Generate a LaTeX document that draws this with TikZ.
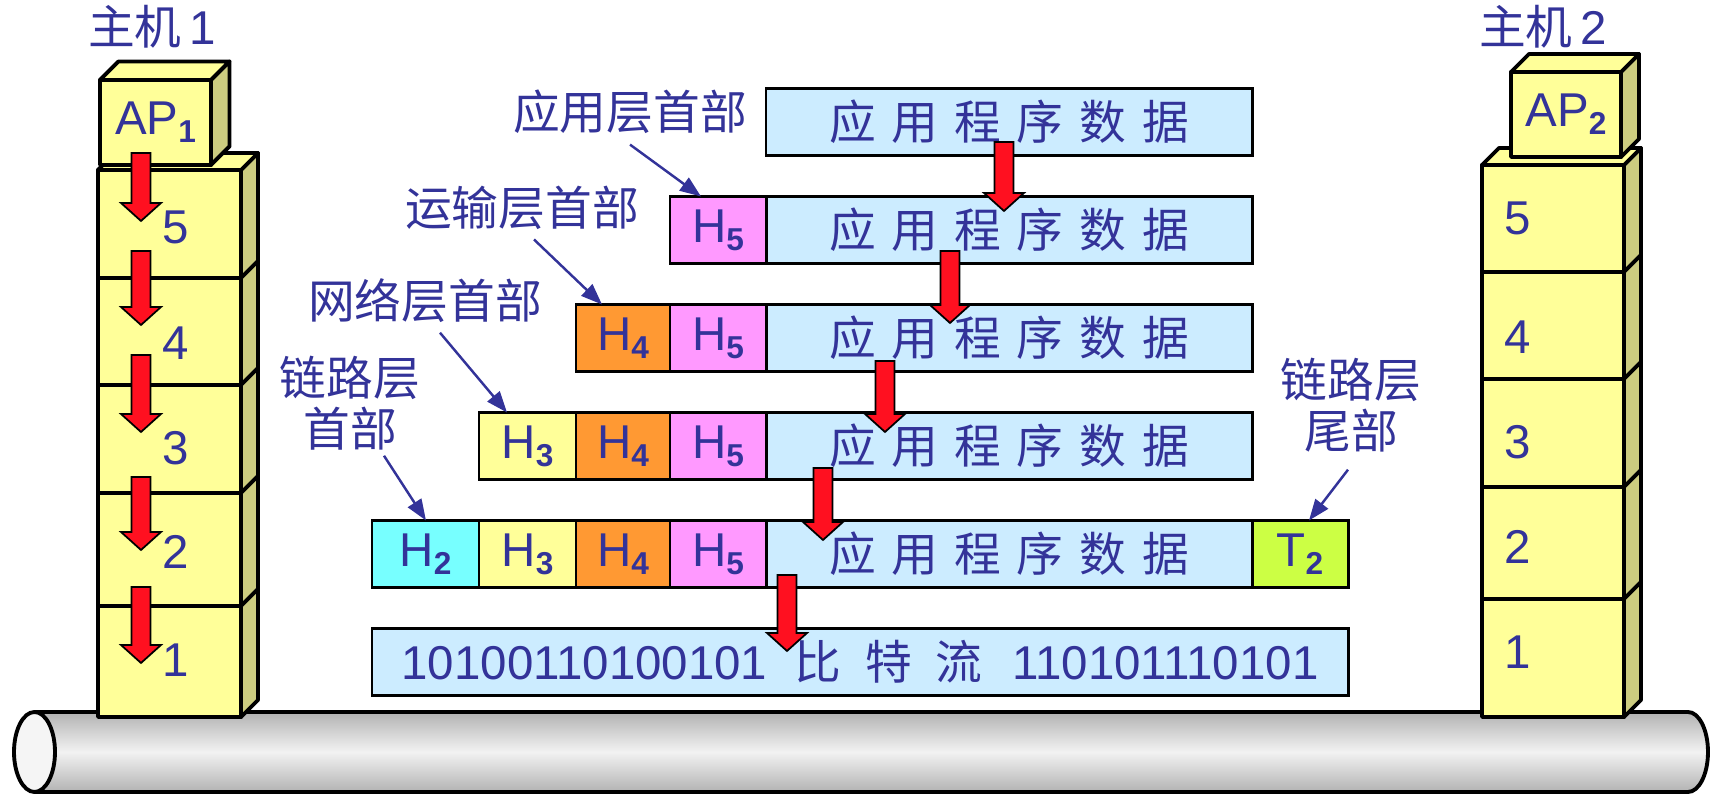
\documentclass[tikz,border=0pt]{standalone}
\usepackage{fontspec}
\setmainfont{Liberation Sans}
\newfontfamily\cjk{Noto Sans CJK SC}
\usetikzlibrary{arrows.meta,positioning}

\definecolor{azultexto}{HTML}{333399}
\definecolor{frente}{HTML}{FFFF99}
\definecolor{lado}{HTML}{CCCC80}
\definecolor{datos}{HTML}{CCECFF}
\definecolor{hdos}{HTML}{77FFFF}
\definecolor{htres}{HTML}{FFFF99}
\definecolor{hcuatro}{HTML}{FF9933}
\definecolor{hcinco}{HTML}{FF99FF}
\definecolor{tdos}{HTML}{CCFF44}
\definecolor{rojo}{HTML}{FF1020}

\newcommand\hsub[1]{\raisebox{-2.3pt}{\fontsize{9}{10}\selectfont\bfseries #1}}
\newcommand\ksp{\hspace{4.5pt}}
\newcommand\appdata{{\cjk\fontsize{13.3}{15}\selectfont 应\ksp 用\ksp 程\ksp 序\ksp 数\ksp 据}}

\tikzset{
  caja/.style={draw=black, line width=1.1pt, line join=round},
  apcara/.style={caja, fill=frente, inner sep=0pt, outer sep=0pt, text=azultexto, font=\fontsize{13.5}{15}\selectfont},
  celda/.style={draw=black, line width=0.85pt, minimum height=0.67cm, inner sep=0pt, outer sep=0pt, text=azultexto, font=\fontsize{13.5}{15}\selectfont},
  etiqueta/.style={text=azultexto, font=\cjk\fontsize{13.3}{14.5}\selectfont, align=center, inner sep=0pt},
  host/.style={text=azultexto, font=\fontsize{13.5}{14.5}\selectfont, inner sep=0pt},
  num/.style={text=azultexto, font=\fontsize{13.5}{15}\selectfont, inner sep=0pt},
  indica/.style={draw=azultexto, line width=0.7pt, -{Triangle[length=6pt,width=4.5pt]}},
  flecha/.style={fill=rojo, draw=black, line width=0.5pt, line join=miter},
}

\begin{document}
\begin{tikzpicture}[scale=1]
  \useasboundingbox (0,0) rectangle (17.14,8.06);

  % Medio de transmision
  \shade[top color=gray!60, bottom color=gray!60, middle color=gray!10] (0.345,0.14) -- (16.88,0.14) arc[start angle=-90, end angle=90, x radius=0.2, y radius=0.4] -- (0.345,0.94) -- cycle;
  \draw[line width=1.1pt] (0.345,0.94) -- (16.88,0.94) arc[start angle=90, end angle=-90, x radius=0.2, y radius=0.4] -- (0.345,0.14);
  \filldraw[line width=1.1pt, fill=gray!8] (0.345,0.54) ellipse [x radius=0.205, y radius=0.4];

  % Host 1
  \foreach \yt/\yb in {6.36/5.28, 5.28/4.21, 4.21/3.13, 3.13/2.00, 2.00/0.89} {
    \filldraw[caja, fill=lado] (2.41,\yb) -- (2.58,\yb+0.17) -- (2.58,\yt+0.17) -- (2.41,\yt) -- cycle;
    \filldraw[caja, fill=frente] (0.98,\yb) rectangle (2.41,\yt);
  }
  \filldraw[caja, fill=frente] (0.98,6.36) -- (1.15,6.53) -- (2.58,6.53) -- (2.41,6.36) -- cycle;
  \node[apcara, minimum width=1.11cm, minimum height=0.85cm] (ap1) at (1.555,6.835) {AP\hsub{1}};
  \filldraw[caja, fill=lado] (ap1.south east) -- ++(0.185,0.185) -- ([shift={(0.185,0.185)}]ap1.north east) -- (ap1.north east) -- cycle;
  \filldraw[caja, fill=frente] (ap1.north west) -- ++(0.185,0.185) -- ([shift={(0.185,0.185)}]ap1.north east) -- (ap1.north east) -- cycle;
  \node[host] (host1) at (1.52,7.79) {{\cjk\fontsize{13.3}{14.5}\selectfont 主机}\,1};
  \foreach \n/\y in {5/5.79, 4/4.63, 3/3.58, 2/2.54, 1/1.46}
    \node[num] (izq\n) at (1.76,\y) {\n};

  % Host 2
  \foreach \yt/\yb in {6.41/5.34, 5.34/4.27, 4.27/3.19, 3.19/2.07, 2.07/0.89} {
    \filldraw[caja, fill=lado] (16.24,\yb) -- (16.41,\yb+0.17) -- (16.41,\yt+0.17) -- (16.24,\yt) -- cycle;
    \filldraw[caja, fill=frente] (14.82,\yb) rectangle (16.24,\yt);
  }
  \filldraw[caja, fill=frente] (14.82,6.41) -- (14.99,6.58) -- (16.41,6.58) -- (16.24,6.41) -- cycle;
  \node[apcara, minimum width=1.10cm, minimum height=0.85cm] (ap2) at (15.66,6.915) {AP\hsub{2}};
  \filldraw[caja, fill=lado] (ap2.south east) -- ++(0.18,0.18) -- ([shift={(0.18,0.18)}]ap2.north east) -- (ap2.north east) -- cycle;
  \filldraw[caja, fill=frente] (ap2.north west) -- ++(0.18,0.18) -- ([shift={(0.18,0.18)}]ap2.north east) -- (ap2.north east) -- cycle;
  \node[host] (host2) at (15.43,7.79) {{\cjk\fontsize{13.3}{14.5}\selectfont 主机}\,2};
  \foreach \n/\y in {5/5.88, 4/4.69, 3/3.64, 2/2.59, 1/1.54}
    \node[num] (der\n) at (15.18,\y) {\n};

  % Unidades de datos
  \node[celda, fill=datos, minimum width=4.86cm] (d1) at (10.09,6.84) {\appdata};

  \node[celda, fill=datos, minimum width=4.86cm] (d2) at (10.09,5.76) {\appdata};
  \node[celda, fill=hcinco, minimum width=0.96cm, left=0pt of d2] (h5b) {H\hsub{5}};

  \node[celda, fill=datos, minimum width=4.86cm] (d3) at (10.09,4.68) {\appdata};
  \node[celda, fill=hcinco, minimum width=0.96cm, left=0pt of d3] (h5c) {H\hsub{5}};
  \node[celda, fill=hcuatro, minimum width=0.94cm, left=0pt of h5c] (h4c) {H\hsub{4}};

  \node[celda, fill=datos, minimum width=4.86cm] (d4) at (10.09,3.60) {\appdata};
  \node[celda, fill=hcinco, minimum width=0.96cm, left=0pt of d4] (h5d) {H\hsub{5}};
  \node[celda, fill=hcuatro, minimum width=0.94cm, left=0pt of h5d] (h4d) {H\hsub{4}};
  \node[celda, fill=htres, minimum width=0.97cm, left=0pt of h4d] (h3d) {H\hsub{3}};

  \node[celda, fill=datos, minimum width=4.86cm] (d5) at (10.09,2.52) {\appdata};
  \node[celda, fill=hcinco, minimum width=0.96cm, left=0pt of d5] (h5e) {H\hsub{5}};
  \node[celda, fill=hcuatro, minimum width=0.94cm, left=0pt of h5e] (h4e) {H\hsub{4}};
  \node[celda, fill=htres, minimum width=0.97cm, left=0pt of h4e] (h3e) {H\hsub{3}};
  \node[celda, fill=hdos, minimum width=1.07cm, left=0pt of h3e] (h2e) {H\hsub{2}};
  \node[celda, fill=tdos, minimum width=0.96cm, right=0pt of d5] (t2e) {T\hsub{2}};

  \node[celda, fill=datos, minimum width=9.76cm] (bits) at (8.60,1.44)
    {10100110100101\hspace{7.7pt}{\cjk\fontsize{13.3}{15}\selectfont 比\hspace{6.8pt}特\hspace{6.8pt}流}\hspace{8.5pt}110101110101};

  % Etiquetas
  \node[etiqueta] (l5) at (6.30,6.94) {应用层首部};
  \node[etiqueta] (l4) at (5.22,5.98) {运输层首部};
  \node[etiqueta] (l3) at (4.25,5.05) {网络层首部};
  \node[etiqueta] (l2) at (3.50,4.03) {链路层\\首部};
  \node[etiqueta] (lt) at (13.51,4.01) {链路层\\尾部};

  \draw[indica] ([yshift=-0.1cm]l5.south) -- ([xshift=0.31cm]h5b.north west);
  \draw[indica] ([xshift=0.12cm,yshift=-0.09cm]l4.south) -- ([xshift=0.26cm]h4c.north west);
  \draw[indica] ([xshift=0.15cm,yshift=-0.09cm]l3.south) -- ([xshift=0.28cm]h3d.north west);
  \draw[indica] ([xshift=0.34cm,yshift=-0.05cm]l2.south) -- ([xshift=0.54cm]h2e.north west);
  \draw[indica] ([xshift=-0.03cm,yshift=-0.17cm]lt.south) -- ([xshift=0.57cm]t2e.north west);

  % Flechas de encapsulado
  \foreach \x/\yt/\yb in {1.41/6.53/5.85, 1.41/5.55/4.81, 1.41/4.51/3.74, 1.41/3.29/2.56, 1.41/2.19/1.43,
                          10.04/6.64/5.95, 9.50/5.55/4.83, 8.85/4.45/3.74, 8.23/3.38/2.66, 7.87/2.31/1.55}
    \filldraw[flecha] (\x-0.095,\yt) -- (\x+0.095,\yt) -- (\x+0.095,\yb+0.18) -- (\x+0.20,\yb+0.18)
      -- (\x,\yb) -- (\x-0.20,\yb+0.18) -- (\x-0.095,\yb+0.18) -- cycle;

\end{tikzpicture}
\end{document}
